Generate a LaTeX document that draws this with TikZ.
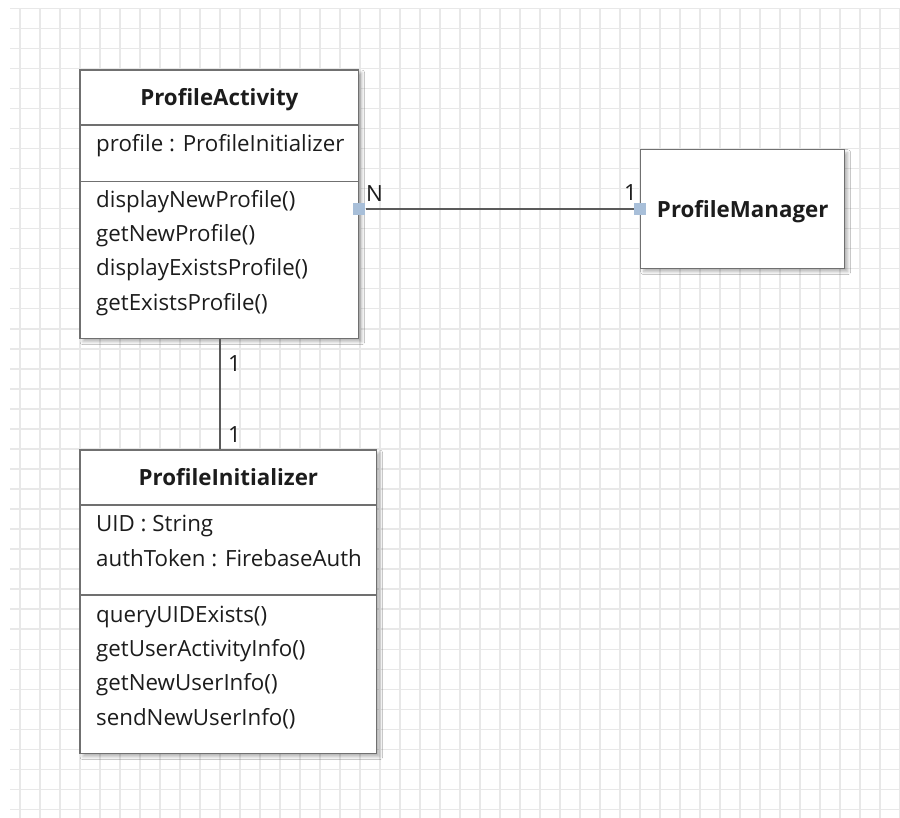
\documentclass[tikz,border=0pt]{standalone}
\usepackage{fontspec}
\setmainfont{Open Sans}
\usetikzlibrary{shadows.blur}
\definecolor{gridline}{RGB}{232,232,232}
\definecolor{boxline}{RGB}{112,112,112}
\definecolor{portfill}{RGB}{168,191,217}
\definecolor{ink}{RGB}{28,28,28}
\definecolor{connline}{RGB}{90,90,90}

\tikzset{
  classbox/.style={draw=boxline, line width=1.4, fill=white, rectangle,
    inner sep=0pt, anchor=north west,
    blur shadow={shadow xshift=3pt, shadow yshift=-3pt, shadow blur steps=6,
                 shadow blur radius=3pt, shadow opacity=30}},
  sepline/.style={draw=boxline, line width=1.4},
  txt/.style={text=ink, inner sep=0pt, font=\fontsize{22.3}{26}\selectfont},
  classtitle/.style={txt, anchor=base, font=\fontsize{22.3}{26}\selectfont\bfseries},
  member/.style={txt, anchor=base west},
  multiplicity/.style={txt, anchor=base west},
  portsq/.style={fill=portfill, minimum size=12, inner sep=0pt, rectangle},
  conn/.style={draw=connline, line width=1.2},
}

\begin{document}
\begin{tikzpicture}[x=1pt, y=-1pt]
\useasboundingbox (0,0) rectangle (900,818);
\fill[white] (0,0) rectangle (900,818);

% background grid
\foreach \i in {1,...,45}
  \draw[gridline, line width=1.5] (20*\i, 8.3) -- (20*\i, 818);
\foreach \j in {0,...,40}
  \draw[gridline, line width=1.5] (10, 8.3+20.03*\j) -- (900, 8.3+20.03*\j);

% ProfileActivity
\node[classbox, minimum width=278.7, minimum height=268.7] (pa) at (79.3,69.3) {};
\draw[sepline] (pa.west |- 0,125) -- (pa.east |- 0,125);
\draw[sepline] (pa.west |- 0,181.7) -- (pa.east |- 0,181.7);
\node[classtitle] (pa-title) at (pa.north |- 0,105.7) {ProfileActivity};
\node[member] (pa-a1) at (96,151.7) {profile : ProfileInitializer};
\node[member] (pa-m1) at (96,207.3) {displayNewProfile()};
\node[member] (pa-m2) at (96,241.6) {getNewProfile()};
\node[member] (pa-m3) at (96,275.9) {displayExistsProfile()};
\node[member] (pa-m4) at (96,310.2) {getExistsProfile()};

% ProfileManager
\node[classbox, minimum width=204, minimum height=119] (pm) at (640,149) {};
\node[classtitle] (pm-title) at (pm.center |- 0,217.3) {ProfileManager};

% ProfileInitializer
\node[classbox, minimum width=296.7, minimum height=303.7] (pi) at (79.3,449.3) {};
\draw[sepline] (pi.west |- 0,505) -- (pi.east |- 0,505);
\draw[sepline] (pi.west |- 0,595) -- (pi.east |- 0,595);
\node[classtitle] (pi-title) at (pi.north |- 0,485.7) {ProfileInitializer};
\node[member] (pi-a1) at (96,531.7) {UID : String};
\node[member] (pi-a2) at (96,566) {authToken : FirebaseAuth};
\node[member] (pi-m1) at (96,622.3) {queryUIDExists()};
\node[member] (pi-m2) at (96,656.6) {getUserActivityInfo()};
\node[member] (pi-m3) at (96,690.9) {getNewUserInfo()};
\node[member] (pi-m4) at (96,725.2) {sendNewUserInfo()};

% association ProfileActivity -- ProfileManager
\node[portsq] (pa-port) at (pa.east |- 0,209) {};
\node[portsq] (pm-port) at (pm.west |- 0,209) {};
\draw[conn] (pa-port) -- (pm-port);
\node[multiplicity] (lbl-n) at (366,201.7) {N};
\node[multiplicity] (lbl-pm) at (624,200.7) {1};

% association ProfileActivity -- ProfileInitializer
\coordinate (vx) at (220,0);
\draw[conn] (pa.south -| vx) -- (pi.north -| vx);
\node[multiplicity] (lbl-top) at (228,372) {1};
\node[multiplicity] (lbl-bot) at (228,442) {1};
\end{tikzpicture}
\end{document}
